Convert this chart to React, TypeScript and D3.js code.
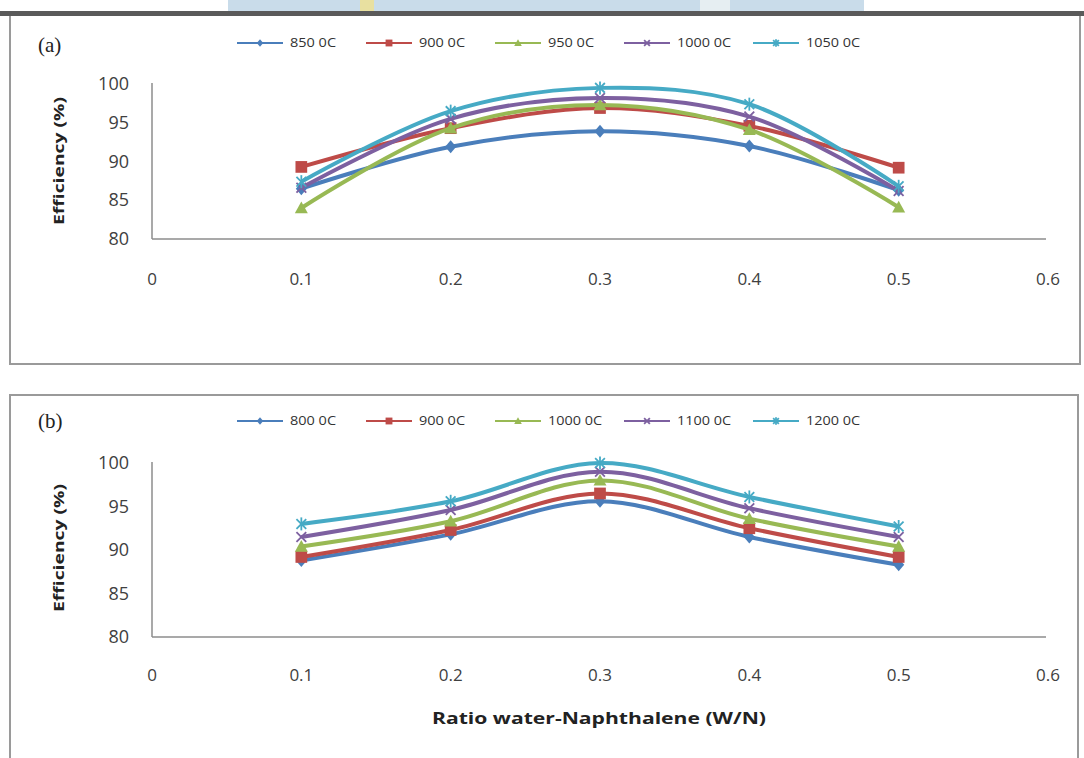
import React from "react";
import * as d3 from "d3";

const xValues = [0.1, 0.2, 0.3, 0.4, 0.5];
const xTicks = [0, 0.1, 0.2, 0.3, 0.4, 0.5, 0.6];
const yTicks = [80, 85, 90, 95, 100];

const namesA = ["850 0C", "900 0C", "950 0C", "1000 0C", "1050 0C"];
const a850 = [86.5, 91.9, 93.9, 92.0, 86.3];
const a900 = [89.3, 94.3, 96.9, 94.6, 89.2];
const a950 = [84.0, 94.3, 97.3, 94.1, 84.1];
const a1000 = [86.6, 95.5, 98.2, 95.8, 86.2];
const a1050 = [87.4, 96.5, 99.5, 97.4, 86.8];

const namesB = ["800 0C", "900 0C", "1000 0C", "1100 0C", "1200 0C"];
const b800 = [88.8, 91.8, 95.6, 91.5, 88.3];
const b900 = [89.2, 92.3, 96.5, 92.5, 89.2];
const b1000 = [90.4, 93.3, 98.0, 93.6, 90.4];
const b1100 = [91.5, 94.6, 99.0, 94.8, 91.5];
const b1200 = [93.0, 95.6, 100.0, 96.1, 92.7];

const colors = ["#4A7EBB", "#BE4B48", "#98B954", "#7D60A0", "#46AAC5"];
const markerTypes = ["diamond", "square", "triangle", "x", "star"];

const FONT = "'Open Sans', 'Noto Sans', sans-serif";

function Marker({ type, color, x, y, s }: { type: string; color: string; x: number; y: number; s: number }) {
  const t = `translate(${x},${y})`;
  if (type === "diamond")
    return <path transform={t} d={`M0,${-s} L${s * 0.85},0 L0,${s} L${-s * 0.85},0Z`} fill={color} />;
  if (type === "square")
    return <rect x={x - s * 0.9} y={y - s * 0.9} width={s * 1.8} height={s * 1.8} fill={color} />;
  if (type === "triangle")
    return <path transform={t} d={`M0,${-s} L${s},${s * 0.8} L${-s},${s * 0.8}Z`} fill={color} />;
  const r = s * 0.75;
  return (
    <g transform={t} stroke={color} strokeWidth={1.8} fill="none">
      <line x1={-r} y1={-r} x2={r} y2={r} />
      <line x1={-r} y1={r} x2={r} y2={-r} />
      {type === "star" && <line x1={0} y1={-s} x2={0} y2={s} />}
    </g>
  );
}

function Panel({
  label, names, series, yTop, yBottom, labelY, legendY, xLabelY, effY,
}: {
  label: string; names: string[]; series: number[][]; yTop: number; yBottom: number;
  labelY: number; legendY: number; xLabelY: number; effY: number;
}) {
  const x = d3.scaleLinear().domain([0, 0.6]).range([152, 1048]);
  const y = d3.scaleLinear().domain([80, 100]).range([yBottom, yTop]);
  const line = d3
    .line<number>()
    .x((_, i) => x(xValues[i]))
    .y((d) => y(d))
    .curve(d3.curveCatmullRom.alpha(0.5));
  const legendX0 = 237;
  const legendStep = 129;
  const legendTextW = names.map((n) => (n.length === 6 ? 46 : 54));
  return (
    <g>
      <text x={38} y={labelY} fontFamily="'Liberation Serif', serif" fontSize={21} fill="#222">
        {label}
      </text>
      {names.map((n, i) => {
        const lx = legendX0 + i * legendStep;
        return (
          <g key={n}>
            <line x1={lx} x2={lx + 46} y1={legendY} y2={legendY} stroke={colors[i]} strokeWidth={2} />
            <Marker type={markerTypes[i]} color={colors[i]} x={lx + 23} y={legendY} s={3.8} />
            <text
              x={lx + 53}
              y={legendY + 4}
              fontFamily={FONT}
              fontSize={12}
              fill="#333"
              textLength={legendTextW[i]}
              lengthAdjust="spacingAndGlyphs"
            >
              {n}
            </text>
          </g>
        );
      })}
      <line x1={152} x2={152} y1={yTop - 1} y2={yBottom} stroke="#8c8c8c" strokeWidth={1.5} />
      <line x1={152} x2={1046} y1={yBottom} y2={yBottom} stroke="#8c8c8c" strokeWidth={1.5} />
      {yTicks.map((t) => (
        <text key={t} x={129} y={y(t) + 6} textAnchor="end" fontFamily={FONT} fontSize={18} fill="#404040">
          {t}
        </text>
      ))}
      {xTicks.map((t) => (
        <text key={t} x={x(t)} y={xLabelY} textAnchor="middle" fontFamily={FONT} fontSize={17} fill="#404040">
          {t}
        </text>
      ))}
      <text
        transform={`translate(64,${effY}) rotate(-90)`}
        textAnchor="middle"
        fontFamily={FONT}
        fontWeight="bold"
        fontSize={15}
        fill="#222"
        textLength={128}
        lengthAdjust="spacingAndGlyphs"
      >
        Efficiency (%)
      </text>
      {series.map((s, i) => (
        <g key={i}>
          <path d={line(s) || ""} fill="none" stroke={colors[i]} strokeWidth={4} strokeLinejoin="round" />
          {s.map((v, j) => (
            <Marker key={j} type={markerTypes[i]} color={colors[i]} x={x(xValues[j])} y={y(v)} s={6.5} />
          ))}
        </g>
      ))}
    </g>
  );
}

export default function App() {
  return (
    <svg width={1084} height={758} style={{ position: "absolute", left: 0, top: 0, background: "#fff" }}>
      <rect x={0} y={0} width={1084} height={758} fill="#fff" />
      <rect x={228} y={0} width={636} height={11} fill="#c9dcea" />
      <rect x={360} y={0} width={14} height={11} fill="#e8e0a0" />
      <rect x={700} y={0} width={30} height={11} fill="#e6eef2" />
      <rect x={0} y={11} width={1084} height={5} fill="#5a5a5a" />
      <path d="M10,16 V364 H1080 V16" fill="none" stroke="#9a9a9a" strokeWidth={2} />
      <path d="M10,758 V395 H1078 V758" fill="none" stroke="#9a9a9a" strokeWidth={2} />
      <Panel
        label="(a)"
        names={namesA}
        series={[a850, a900, a950, a1000, a1050]}
        yTop={84}
        yBottom={239}
        labelY={52}
        legendY={43}
        xLabelY={285}
        effY={161}
      />
      <Panel
        label="(b)"
        names={namesB}
        series={[b800, b900, b1000, b1100, b1200]}
        yTop={463}
        yBottom={637}
        labelY={428}
        legendY={421}
        xLabelY={681}
        effY={548}
      />
      <text
        x={599}
        y={724}
        textAnchor="middle"
        fontFamily={FONT}
        fontWeight="bold"
        fontSize={16}
        fill="#222"
        textLength={334}
        lengthAdjust="spacingAndGlyphs"
      >
        Ratio water-Naphthalene (W/N)
      </text>
    </svg>
  );
}
